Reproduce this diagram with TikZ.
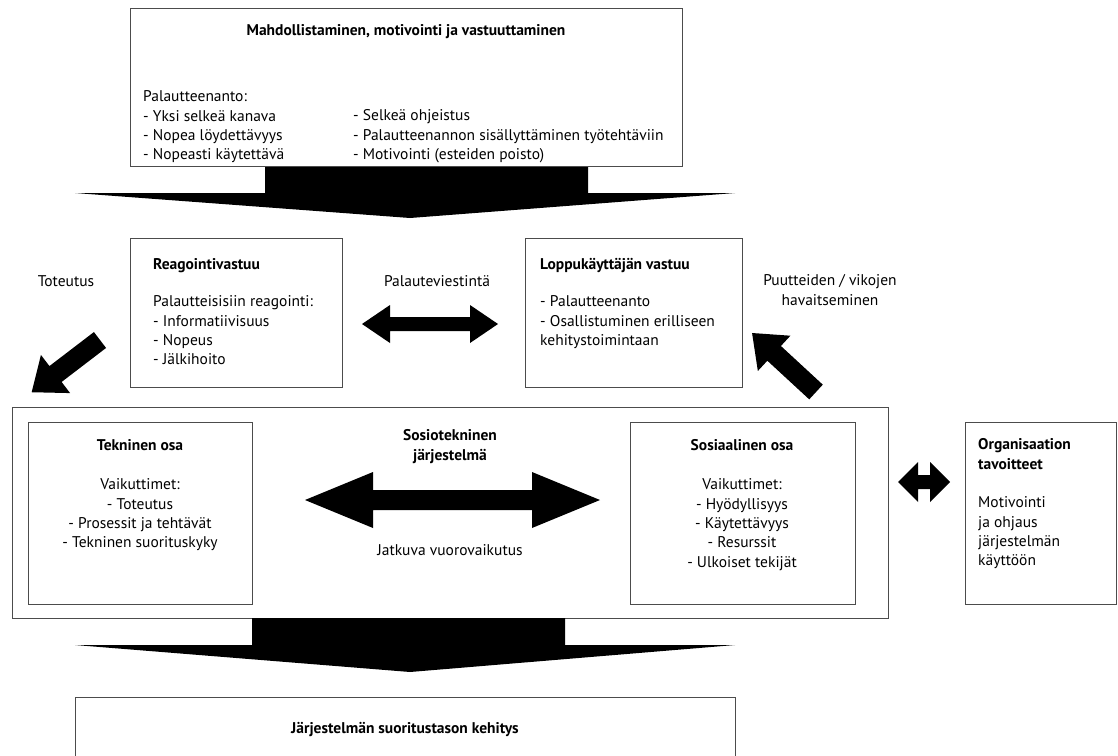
\documentclass[tikz,border=0pt]{standalone}
\usepackage{fontspec}
\setmainfont{PT Sans}
\begin{document}
\begin{tikzpicture}[x=1pt,y=-1pt,
  box/.style={draw=black!70, line width=1.2pt, anchor=north west, inner sep=0pt},
  txt/.style={inner sep=0pt, font=\fontsize{15.5}{19.3}\selectfont},
  hd/.style={inner sep=0pt, font=\fontsize{15.5}{19.3}\selectfont\bfseries},
  fat/.style={fill=black, draw=none}]
\fill[white] (0,0) rectangle (1118,755);
\useasboundingbox (0,0) rectangle (1118,755);

% top block: enabling the feedback
\fill[fat] (265,166) -- (588,166) -- (588,193) -- (735,193) -- (410,218) -- (75,193) -- (265,193) -- cycle;
\node[box, minimum width=552pt, minimum height=158pt] (enable) at (130,8) {};
\node[hd, anchor=base] (enableT) at (406,35) {Mahdollistaminen, motivointi ja vastuuttaminen};
\node[txt, align=left, anchor=north west] (enableL) at (143,90.7)
  {Palautteenanto:\\- Yksi selkeä kanava\\- Nopea löydettävyys\\- Nopeasti käytettävä};
\node[txt, align=left, anchor=north west] (enableR) at (353,109.7)
  {- Selkeä ohjeistus\\- Palautteenannon sisällyttäminen työtehtäviin\\- Motivointi (esteiden poisto)};

% responsibilities
\node[box, minimum width=212pt, minimum height=149pt] (react) at (130,238) {};
\node[hd, anchor=base west] (reactT) at (153,269) {Reagointivastuu};
\node[txt, align=left, anchor=north west] (reactB) at (153,295.7)
  {Palautteisisiin reagointi:\\- Informatiivisuus\\- Nopeus\\- Jälkihoito};

\node[box, minimum width=217pt, minimum height=149pt] (user) at (525,238) {};
\node[hd, anchor=base west] (userT) at (540,269) {Loppukäyttäjän vastuu};
\node[txt, align=left, anchor=north west] (userB) at (540,295.7)
  {- Palautteenanto\\- Osallistuminen erilliseen\\kehitystoimintaan};

\node[txt, anchor=base] (comm) at (437,286) {Palauteviestintä};
\fill[fat] (362,324) -- (390,305) -- (390,317) -- (470,317) -- (470,305) -- (498,324)
  -- (470,343) -- (470,331) -- (390,331) -- (390,343) -- cycle;

\node[txt, anchor=base] (impl) at (66,286) {Toteutus};
\begin{scope}[shift={(100,340)}, rotate=217.4]
  \fill[fat] (0,-10) -- (56,-10) -- (56,-24) -- (86,0) -- (56,24) -- (56,10) -- (0,10) -- cycle;
\end{scope}

\node[txt, align=center, anchor=north] (defects) at (830,274.7) {Puutteiden / vikojen\\havaitseminen};
\begin{scope}[shift={(816,392)}, rotate=137.3]
  \fill[fat] (0,-10) -- (57,-10) -- (57,-24) -- (87,0) -- (57,24) -- (57,10) -- (0,10) -- cycle;
\end{scope}

% socio-technical system
\node[box, minimum width=876pt, minimum height=211pt] (sts) at (12,407) {};
\node[box, minimum width=224pt, minimum height=182pt] (tech) at (28,422) {};
\node[hd, anchor=base] (techT) at (140,450) {Tekninen osa};
\node[txt, align=center, anchor=north] (techB) at (140,478.7)
  {Vaikuttimet:\\- Toteutus\\- Prosessit ja tehtävät\\- Tekninen suorituskyky};

\node[hd, align=center, anchor=north] (stsT) at (450,429.7) {Sosiotekninen\\järjestelmä};
\fill[fat] (305,500) -- (373,472) -- (373,490) -- (532,490) -- (532,472) -- (600,500)
  -- (532,528) -- (532,510) -- (373,510) -- (373,528) -- cycle;
\node[txt, anchor=base] (inter) at (450,555) {Jatkuva vuorovaikutus};

\node[box, minimum width=225pt, minimum height=182pt] (social) at (630,422) {};
\node[hd, anchor=base] (socialT) at (742,450) {Sosiaalinen osa};
\node[txt, align=center, anchor=north] (socialB) at (742,478.7)
  {Vaikuttimet:\\- Hyödyllisyys\\- Käytettävyys\\- Resurssit\\- Ulkoiset tekijät};

\fill[fat] (898,482) -- (918,462) -- (918,475) -- (930,475) -- (930,462) -- (950,482)
  -- (930,502) -- (930,489) -- (918,489) -- (918,502) -- cycle;

\node[box, minimum width=151pt, minimum height=182pt] (org) at (965,422) {};
\node[hd, align=left, anchor=north west] (orgT) at (978,438.7) {Organisaation\\tavoitteet};
\node[txt, align=left, anchor=north west] (orgB) at (978,496.7)
  {Motivointi\\ja ohjaus\\järjestelmän\\käyttöön};

% outcome
\fill[fat] (252,618) -- (565,618) -- (565,645) -- (735,645) -- (410,672) -- (75,645) -- (252,645) -- cycle;
\node[box, minimum width=660pt, minimum height=90pt] (result) at (75,697) {};
\node[hd, anchor=base] (resultT) at (405,733) {Järjestelmän suoritustason kehitys};
\end{tikzpicture}
\end{document}
